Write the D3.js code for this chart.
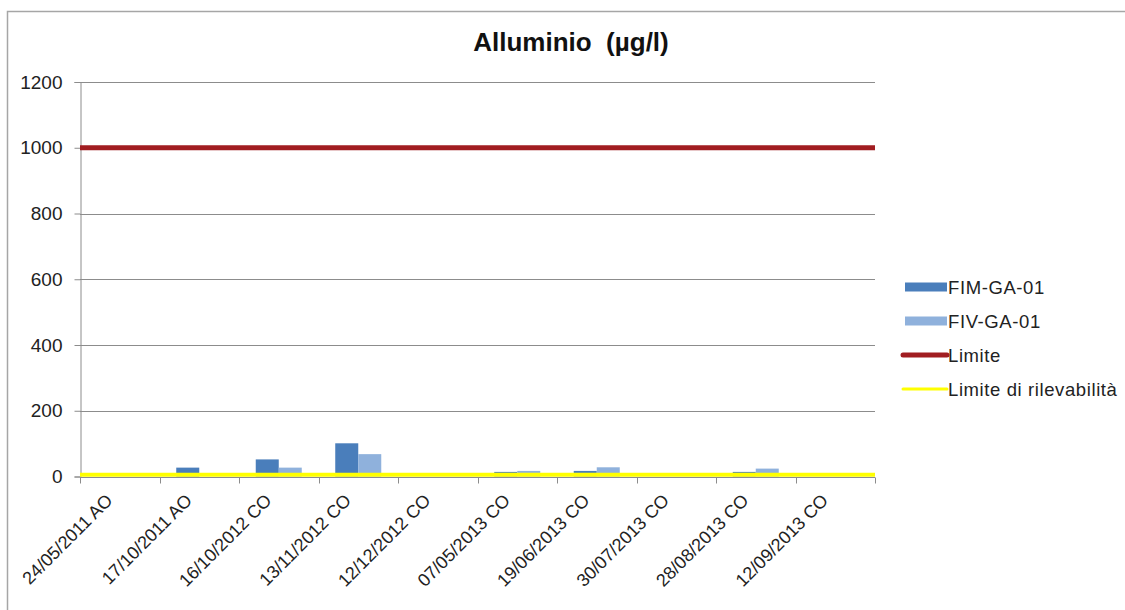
<!DOCTYPE html>
<html>
<head>
<meta charset="utf-8">
<script src="https://cdn.jsdelivr.net/npm/d3@7"></script>
<style>
  html, body { margin: 0; padding: 0; background: #fff; }
  svg { display: block; font-family: "Liberation Sans", Arial, sans-serif; }
</style>
</head>
<body>
<svg id="chart" width="1125" height="610"></svg>
<script>
// ---- data ----
const categories = ["24/05/2011 AO", "17/10/2011 AO", "16/10/2012 CO", "13/11/2012 CO", "12/12/2012 CO",
                    "07/05/2013 CO", "19/06/2013 CO", "30/07/2013 CO", "28/08/2013 CO", "12/09/2013 CO"];
const seriesNames = ["FIM-GA-01", "FIV-GA-01"];
const fimValues = [null, 27, 52, 101, null, 14, 17, null, 14, null];
const fivValues = [null, null, 27, 68, null, 17, 28, null, 24, null];
const limiteValues = [1000, 1000, 1000, 1000, 1000, 1000, 1000, 1000, 1000, 1000];
const rilevabilitaValues = [5, 5, 5, 5, 5, 5, 5, 5, 5, 5];
const yTicks = [0, 200, 400, 600, 800, 1000, 1200];
const title = "Alluminio  (µg/l)";

// ---- layout ----
const svg = d3.select("#chart");
const plot = { left: 80, right: 875, top: 82, bottom: 476.5 };
const colors = { "FIM-GA-01": "#4a7ebb", "FIV-GA-01": "#8fb1dc", limite: "#a11d21", rilev: "#ffff00" };

// chart border
svg.append("rect").attr("x", 7.5).attr("y", 11.5).attr("width", 1130).attr("height", 610)
  .attr("fill", "none").attr("stroke", "#a6a6a6").attr("stroke-width", 1.5);

const y = d3.scaleLinear().domain([0, 1200]).range([plot.bottom, plot.top]);
const x0 = d3.scaleBand().domain(categories).range([plot.left, plot.right]).padding(0);
const x1 = d3.scaleBand().domain(seriesNames).range([0, x0.bandwidth()]).paddingInner(0).paddingOuter(0.728);
const xl = d3.scalePoint().domain(categories).range([plot.left, plot.right]).padding(0);

// gridlines
svg.append("g").selectAll("line").data(yTicks.filter(d => d > 0)).join("line")
  .attr("x1", plot.left).attr("x2", plot.right)
  .attr("y1", d => Math.round(y(d)) + 0.5).attr("y2", d => Math.round(y(d)) + 0.5)
  .attr("stroke", "#8c8c8c").attr("stroke-width", 1);

// bars
const barData = [];
categories.forEach((c, i) => {
  [fimValues[i], fivValues[i]].forEach((v, j) => {
    if (v != null) barData.push({ cat: c, series: seriesNames[j], value: v });
  });
});
svg.append("g").selectAll("rect").data(barData).join("rect")
  .attr("x", d => x0(d.cat) + x1(d.series))
  .attr("width", x1.bandwidth())
  .attr("y", d => y(d.value))
  .attr("height", d => y(0) - y(d.value))
  .attr("fill", d => colors[d.series]);

// y axis
const yAxis = d3.axisLeft(y).tickValues(yTicks).tickSize(6).tickPadding(12).tickFormat(d3.format("d"));
const gy = svg.append("g").attr("transform", `translate(${plot.left + 0.5},0)`).call(yAxis);
gy.select(".domain").attr("stroke", "#8c8c8c");
gy.selectAll(".tick line").attr("stroke", "#8c8c8c");
gy.selectAll(".tick text").attr("font-size", 19).attr("fill", "#222").attr("font-family", "Liberation Sans, Arial, sans-serif");

// x axis (ticks at category boundaries)
const gx = svg.append("g").attr("transform", `translate(0,${Math.round(plot.bottom) + 0.5})`);
gx.append("line").attr("x1", plot.left).attr("x2", plot.right).attr("stroke", "#8c8c8c");
const boundaries = categories.map(c => x0(c)).concat([x0(categories[categories.length - 1]) + x0.bandwidth()]);
gx.selectAll("line.tk").data(boundaries).join("line").attr("class", "tk")
  .attr("x1", d => Math.round(d) + 0.5).attr("x2", d => Math.round(d) + 0.5)
  .attr("y1", 0).attr("y2", 6).attr("stroke", "#8c8c8c");
gx.selectAll("text").data(categories).join("text")
  .attr("transform", d => `translate(${x0(d) + x0.bandwidth() / 2 - 6},${24}) rotate(-45)`)
  .attr("text-anchor", "end").attr("font-size", 18).attr("fill", "#222")
  .text(d => d);

// lines
const line = d3.line().x((d, i) => xl(categories[i])).y(d => y(d));
svg.append("path").datum(rilevabilitaValues).attr("d", line)
  .attr("fill", "none").attr("stroke", colors.rilev).attr("stroke-width", 4);
svg.append("path").datum(limiteValues).attr("d", line)
  .attr("fill", "none").attr("stroke", colors.limite).attr("stroke-width", 5);

// title
svg.append("text").attr("x", 571).attr("y", 51).attr("text-anchor", "middle")
  .style("white-space", "pre")
  .attr("font-size", 26).attr("font-weight", "bold").attr("fill", "#111").text(title);

// legend
const legendItems = [
  { name: "FIM-GA-01", type: "bar", color: colors["FIM-GA-01"], y: 287 },
  { name: "FIV-GA-01", type: "bar", color: colors["FIV-GA-01"], y: 321 },
  { name: "Limite", type: "line", color: colors.limite, w: 5, y: 355 },
  { name: "Limite di rilevabilità", type: "line", color: colors.rilev, w: 3, y: 389 }
];
const lg = svg.append("g");
legendItems.forEach(it => {
  if (it.type === "bar") {
    lg.append("rect").attr("x", 905).attr("y", it.y - 4.5).attr("width", 42).attr("height", 9).attr("fill", it.color);
  } else {
    lg.append("line").attr("x1", 903).attr("x2", 947).attr("y1", it.y).attr("y2", it.y)
      .attr("stroke", it.color).attr("stroke-width", it.w).attr("stroke-linecap", "round");
  }
  lg.append("text").attr("x", 948).attr("y", it.y + 6.5).attr("font-size", 18.5)
    .attr("letter-spacing", 0.6).attr("fill", "#222").text(it.name);
});
</script>
</body>
</html>
